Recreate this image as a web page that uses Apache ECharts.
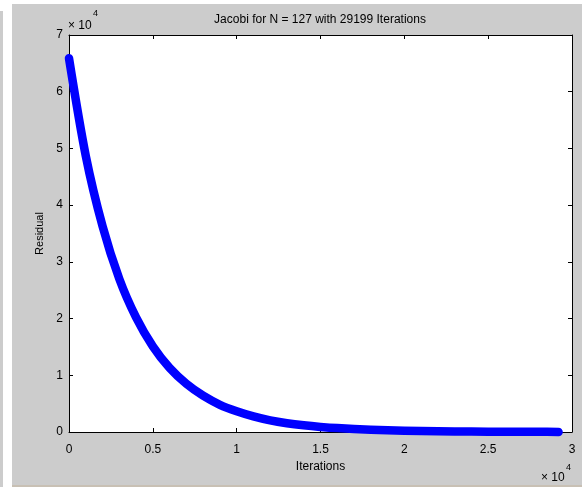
<!DOCTYPE html>
<html>
<head>
<meta charset="utf-8">
<script src="https://cdn.jsdelivr.net/npm/echarts@6/dist/echarts.min.js"></script>
<style>
  html, body { margin: 0; padding: 0; background: #ffffff; }
  #chart { width: 582px; height: 487px; }
</style>
</head>
<body>
<div id="chart"></div>
<script>
// Jacobi iteration history: residual vs iteration count
const iterations = [0, 1000, 2000, 3000, 4000, 5000, 6000, 7000, 8000, 9000, 10000,
  11000, 12000, 13000, 14000, 15000, 16000, 18000, 20000, 22000, 24000, 26000, 28000, 29199];
const residuals = [65900, 48700, 36300, 27000, 20200, 15100, 11300, 8500, 6400, 4800, 3650,
  2750, 2050, 1550, 1180, 900, 690, 410, 240, 140, 85, 50, 30, 22];

const xTicks = [0, 5000, 10000, 15000, 20000, 25000, 30000];
const yTicks = [0, 10000, 20000, 30000, 40000, 50000, 60000, 70000];
const tickScale = 10000;

const titleText = 'Jacobi for N = 127 with 29199 Iterations';
const xName = 'Iterations';
const yName = 'Residual';

const FONT = '"Liberation Sans", Arial, Helvetica, sans-serif';
const INK = '#000000';

const chart = echarts.init(document.getElementById('chart'), null, { renderer: 'canvas' });

const fmt = v => String(v / tickScale);

function valueAxis(pos, lo, hi, step, labels) {
  return {
    type: 'value',
    position: pos,
    min: lo,
    max: hi,
    interval: step,
    axisLine: { show: true, onZero: false, lineStyle: { color: INK, width: 1 } },
    axisTick: { show: true, inside: true, length: 4, lineStyle: { color: INK, width: 1 } },
    axisLabel: labels ? Object.assign({ show: true, color: INK, fontSize: 12, fontFamily: FONT, formatter: fmt }, labels) : { show: false },
    splitLine: { show: false }
  };
}

const xBottom = Object.assign(valueAxis('bottom', xTicks[0], xTicks[xTicks.length - 1], xTicks[1] - xTicks[0], { margin: 12 }), {
  name: xName, nameLocation: 'middle', nameGap: 27,
  nameTextStyle: { color: INK, fontSize: 12, fontFamily: FONT }
});
const xTop = valueAxis('top', xTicks[0], xTicks[xTicks.length - 1], xTicks[1] - xTicks[0], null);
const yLeft = Object.assign(valueAxis('left', yTicks[0], yTicks[yTicks.length - 1], yTicks[1] - yTicks[0], { margin: 6 }), {
  name: yName, nameLocation: 'middle', nameGap: 22, nameRotate: 90,
  nameTextStyle: { color: INK, fontSize: 11, fontFamily: FONT }
});
const yRight = valueAxis('right', yTicks[0], yTicks[yTicks.length - 1], yTicks[1] - yTicks[0], null);

function label(x, y, text, size, align) {
  return {
    type: 'text', x: x, y: y, silent: true,
    style: {
      text: text, fill: INK, font: size + 'px ' + FONT,
      textAlign: align, align: align,
      textVerticalAlign: 'middle', verticalAlign: 'middle'
    }
  };
}

chart.setOption({
  animation: false,
  backgroundColor: '#cccccc',
  grid: {
    left: 69, top: 35, right: 10, bottom: 55,
    show: true, backgroundColor: '#ffffff', borderWidth: 0
  },
  xAxis: [xBottom, xTop],
  yAxis: [yLeft, yRight],
  series: [{
    type: 'line',
    xAxisIndex: 0,
    yAxisIndex: 0,
    data: iterations.map((it, i) => [it, residuals[i]]),
    showSymbol: false,
    smooth: 0.3,
    clip: false,
    lineStyle: { color: '#0000ff', width: 8.5, cap: 'round', join: 'round' },
    z: 5
  }],
  graphic: [
    // window edge strips
    { type: 'rect', shape: { x: 3, y: 0, width: 9, height: 487 }, style: { fill: '#ffffff' }, silent: true },
    { type: 'rect', shape: { x: 0, y: 0, width: 3, height: 11 }, style: { fill: '#ffffff' }, silent: true },
    { type: 'rect', shape: { x: 12, y: 0, width: 570, height: 4 }, style: { fill: '#ffffff' }, silent: true },
    { type: 'rect', shape: { x: 12, y: 485, width: 570, height: 2 }, style: { fill: '#c8c0b4' }, silent: true },
    // title
    label(320, 20, titleText, 12, 'center'),
    // axis multipliers
    label(68, 26, '× 10', 12, 'left'),
    label(93, 14, '4', 9, 'left'),
    label(541, 478, '× 10', 12, 'left'),
    label(566, 468, '4', 9, 'left')
  ]
});
</script>
</body>
</html>
